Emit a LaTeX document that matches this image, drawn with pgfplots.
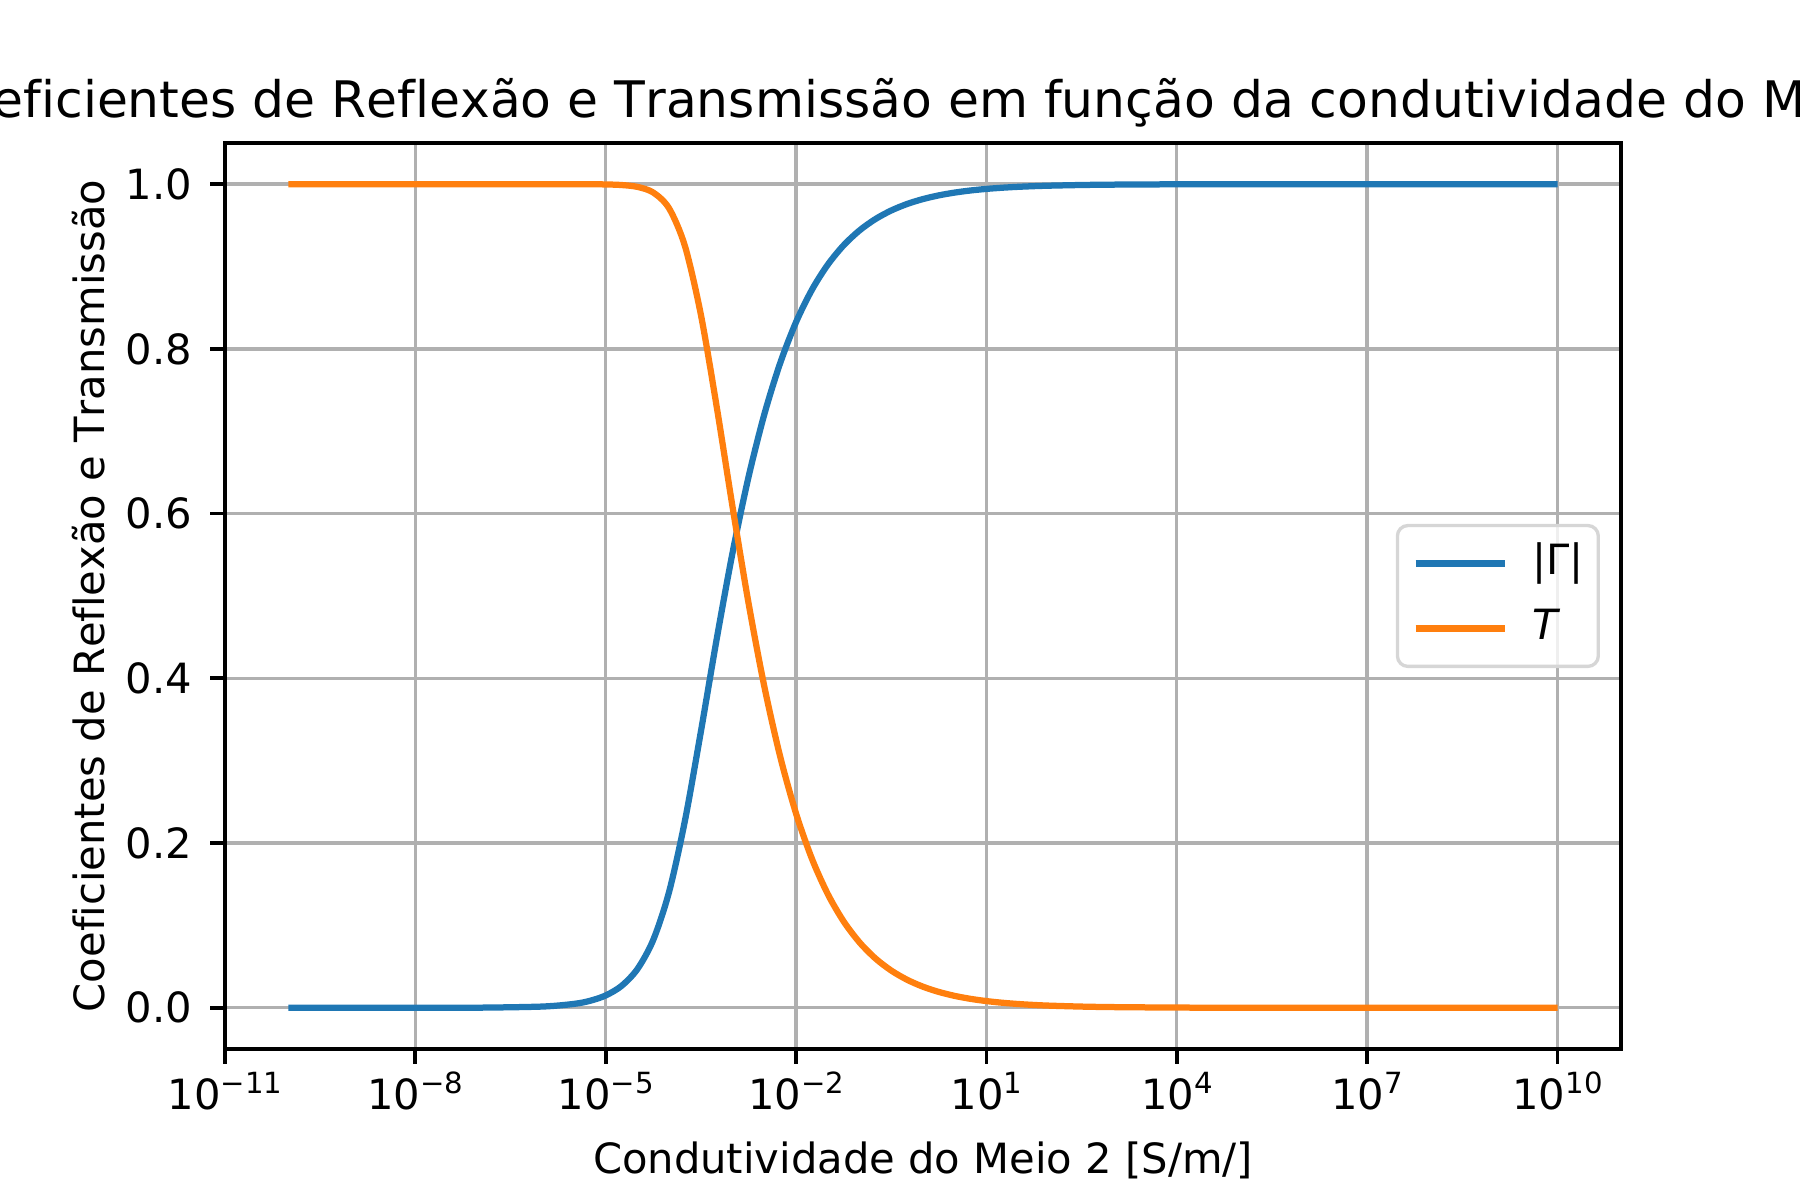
\documentclass[border=0pt]{standalone}
\usepackage{fontspec}
\setmainfont{DejaVu Sans}[Kerning=Off, Ligatures=NoCommon]
\usepackage{pgfplots}
\usepackage{pgfplotstable}
\pgfplotsset{compat=1.18}
\definecolor{c0}{HTML}{1F77B4}
\definecolor{c1}{HTML}{FF7F0E}
\definecolor{gridc}{HTML}{B0B0B0}
\newcommand{\tl}[1]{10\raisebox{4pt}{\fontsize{7}{7}\selectfont #1}}

\pgfplotstableread{
s          g          t
1e-10      0.0000002  1.0
1e-9       0.0000015  1.0
1e-8       0.000015   1.0
1e-7       0.00015    1.0
1e-6       0.0015     1.0
3.1623e-6  0.00474    0.99997
5.6234e-6  0.00842    0.99989
1e-5       0.01498    0.99966
1.7783e-5  0.02659    0.99894
3.1623e-5  0.04706    0.99668
5.6234e-5  0.08254    0.98982
1e-4       0.14110    0.97049
1.7783e-4  0.22769    0.92450
3.1623e-4  0.33540    0.84144
5.6234e-4  0.44810    0.72933
1e-3       0.55295    0.60756
1.7783e-3  0.64423    0.49175
3.1623e-3  0.72061    0.39001
5.6234e-3  0.78283    0.30488
1e-2       0.83258    0.23579
1.7783e-2  0.87178    0.18091
3.1623e-2  0.90227    0.13802
5.6234e-2  0.92580    0.10485
1e-1       0.94383    0.07941
0.17783    0.95759    0.05995
0.31623    0.96804    0.04520
0.56234    0.97594    0.03404
1          0.98190    0.02560
1.7783     0.98639    0.01924
3.1623     0.98978    0.01445
5.6234     0.99233    0.01085
10         0.99424    0.00815
17.783     0.99568    0.00611
31.623     0.99676    0.00459
56.234     0.99757    0.00344
100        0.99817    0.00258
316.23     0.99897    0.00145
1000       0.99942    0.00082
1e4        0.99982    0.00026
1e5        0.99994    0.00008
1e6        0.99998    0.00003
1e7        1.0        0.00001
1e8        1.0        0.0
1e9        1.0        0.0
1e10       1.0        0.0
}\datatab

\begin{document}
\begin{tikzpicture}
\useasboundingbox (-54pt,-36.24pt) rectangle (378pt,251.76pt);
\begin{axis}[
  at={(0,0)}, anchor=south west,
  scale only axis, width=335.04pt, height=217.44pt,
  xmode=log, log basis x=10,
  xmin=1e-11, xmax=1e11, ymin=-0.05, ymax=1.05,
  xtick={1e-11,1e-8,1e-5,1e-2,1e1,1e4,1e7,1e10},
  xticklabels={\tl{−11},\tl{−8},\tl{−5},\tl{−2},\tl{1},\tl{4},\tl{7},\tl{10}},
  ytick={0,0.2,0.4,0.6,0.8,1.0},
  yticklabels={0.0,0.2,0.4,0.6,0.8,1.0},
  xminorticks=false, yminorticks=false,
  grid=major,
  major grid style={gridc, line width=0.8pt},
  axis line style={line width=1pt},
  tick align=outside, xtick pos=bottom, ytick pos=left,
  major tick length=3.5pt,
  every tick/.append style={black, line width=0.9pt},
  tick label style={font=\fontsize{10}{12}\selectfont, inner sep=0pt},
  xticklabel style={anchor=base, yshift=-11.1pt},
  yticklabel style={anchor=east, xshift=-4.2pt},
  title={Coeficientes de Reflexão e Transmissão em função da condutividade do Meio 2},
  every axis title/.style={at={(axis description cs:0.5,1)}, anchor=base, yshift=6pt, xshift=1.2pt, inner sep=0pt, font=\fontsize{12.08}{14}\selectfont, overlay},
  xlabel={Condutividade do Meio 2 [S/m/]},
  every axis x label/.style={at={(axis description cs:0.5,0)}, anchor=base, yshift=-29.8pt, inner sep=0pt, font=\fontsize{10}{12}\selectfont},
  ylabel={Coeficientes de Reflexão e Transmissão},
  every axis y label/.style={at={(axis description cs:-0.08596,0.5)}, rotate=90, anchor=base, inner sep=0pt, font=\fontsize{10}{12}\selectfont},
  legend cell align=left,
  legend image code/.code={\draw[#1] (0pt,0pt) -- (21.4pt,0pt);},
  legend style={at={(axis description cs:0.98496,0.5)}, anchor=east,
    draw=black!16, line width=0.8pt, rounded corners=2.5pt,
    fill=white, fill opacity=0.8, text opacity=1,
    inner xsep=3.6pt, inner ysep=4.1pt, row sep=5.6pt, column sep=5.8pt,
    font=\fontsize{10}{12}\selectfont,
    nodes={inner sep=0pt, text height=7.6pt, text depth=2.4pt}},
]
\addplot[c0, line width=1.5pt, smooth] table[x=s, y=g] {\datatab};
\addlegendentry{|Γ|\hspace{1.2pt}}
\addplot[c1, line width=1.5pt, smooth] table[x=s, y=t] {\datatab};
\addlegendentry{\textit{T}}
\end{axis}
\end{tikzpicture}
\end{document}
